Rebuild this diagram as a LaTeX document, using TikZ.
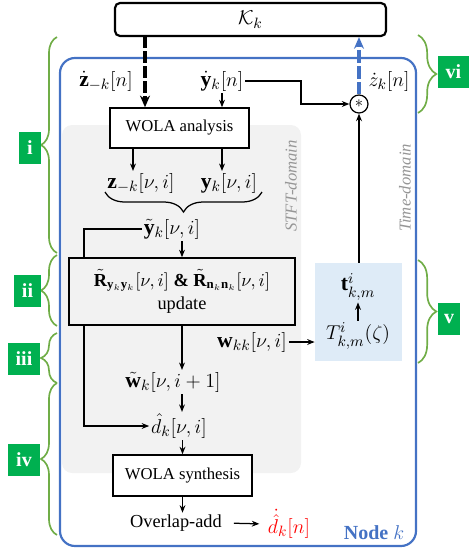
\documentclass[tikz,border=0pt]{standalone}
\usepackage{amsmath,amssymb,bm}
\usepackage{fontspec}
\setmainfont{Liberation Serif}
\usetikzlibrary{calc,arrows.meta,decorations.pathreplacing}
\definecolor{nodeblue}{RGB}{68,114,196}
\definecolor{stftgray}{RGB}{242,242,242}
\definecolor{tblue}{RGB}{222,235,247}
\definecolor{bracegreen}{RGB}{112,173,71}
\definecolor{labelgreen}{RGB}{0,176,80}
\definecolor{domaingray}{RGB}{150,150,150}
\tikzset{
  blockbox/.style={draw=black,line width=0.9pt,fill=white,inner sep=0pt,align=center},
  arw/.style={-{Stealth[length=4.5pt,width=3.5pt]},line width=0.75pt},
  lbl/.style={inner sep=1pt,font=\fontsize{13}{15}\selectfont},
  gbrace/.style={draw=bracegreen,line width=1pt,decorate,decoration={brace,amplitude=#1}},
  gbrace/.default=9.6pt,
  stage/.style={fill=labelgreen,text=white,inner sep=0pt,minimum height=19.2pt,
    font=\fontsize{12}{14}\bfseries\selectfont},
  domaintext/.style={rotate=90,text=domaingray,font=\itshape},
}
\begin{document}
\begin{tikzpicture}[x=0.6pt,y=-0.6pt]
    \useasboundingbox (0,0) rectangle (469,551);
    % regions
    \fill[stftgray,rounded corners=6pt] (62,125) rectangle (301,473);
    \draw[nodeblue,line width=1.3pt,rounded corners=9pt] (60,58) rectangle (416,546);
    \node[domaintext] (stftdom) at (291,186) {STFT-domain};
    \node[domaintext] (timedom) at (405,188) {Time-domain};
    \fill[tblue] (315,263) rectangle (402,361);
    \node[inner sep=0pt,minimum width=52.2pt,minimum height=58.8pt] (tbox) at (358.5,312) {};
    % blocks
    \node[blockbox,line width=1.3pt,rounded corners=3pt,minimum width=162.6pt,minimum height=19.8pt,font=\fontsize{13}{15}\selectfont] (kbox) at (250.5,19.5) {$\mathcal{K}_k$};
    \node[blockbox,minimum width=83.4pt,minimum height=24pt] (analysis) at (179.5,128) {WOLA analysis};
    \node[blockbox,minimum width=83.4pt,minimum height=24.6pt] (synthesis) at (182.5,475.5) {WOLA synthesis};
    \node[draw,circle,line width=0.75pt,fill=white,inner sep=0pt,minimum size=10.8pt] (mult) at (359,104) {$\ast$};
    % labels
    \node[lbl] (zdot) at (106,81) {$\dot{\mathbf{z}}_{-k}[n]$};
    \node[lbl] (ydot) at (222,81) {$\dot{\mathbf{y}}_k[n]$};
    \node[lbl] (zkdot) at (389,81) {$\dot{z}_k[n]$};
    \node[lbl] (zstft) at (141,183) {$\mathbf{z}_{-k}[\nu,i]$};
    \node[lbl] (ystft) at (229,183) {$\mathbf{y}_k[\nu,i]$};
    \node[lbl] (ytil) at (172,229) {$\tilde{\mathbf{y}}_k[\nu,i]$};
    \node[lbl] (wkk) at (252,342) {$\mathbf{w}_{kk}[\nu,i]$};
    \node[lbl] (wtil) at (173,382) {$\tilde{\mathbf{w}}_k[\nu,i+1]$};
    \node[lbl] (dhat) at (179,426) {$\hat{d}_k[\nu,i]$};
    \node[lbl] (tt) at (358,287) {$\mathbf{t}^i_{k,m}$};
    \node[lbl] (TT) at (358,336) {$T^i_{k,m}(\zeta)$};
    \node[lbl,font=\fontsize{11}{13}\selectfont] (ola) at (176,523) {Overlap-add};
    \node[lbl,text=red] (dout) at (289,524) {$\dot{\hat{d}}_k[n]$};
    \node[lbl,text=nodeblue,font=\fontsize{12}{14}\selectfont] (nodename) at (374,533) {\textbf{Node} $k$};
    % loop from y-tilde to d-hat (behind the update block)
    \coordinate (loopx) at (84,0);
    \draw[arw] (ytil.west) -| (loopx |- dhat) -- (dhat.west);
    \node[blockbox,fill=stftgray,minimum width=135.6pt,minimum height=40.2pt,font=\fontsize{11}{14}\selectfont] (rbox) at (182,291.5)
        {$\tilde{\mathbf{R}}_{\mathbf{y}_k\mathbf{y}_k}[\nu,i]$ \textbf{\&} $\tilde{\mathbf{R}}_{\mathbf{n}_k\mathbf{n}_k}[\nu,i]$\\update};
    % connectors
    \coordinate (zin) at (145,36);
    \draw[-{Stealth[length=7pt,width=6pt]},line width=2pt,dash pattern=on 7pt off 2pt] (zin) -- (zin |- analysis.north);
    \draw[arw] (ydot) -- (ydot |- analysis.north);
    \coordinate (bend) at (301,104);
    \draw[arw] (ydot.east) -| (bend) -- (mult.west);
    \draw[-{Stealth[length=7pt,width=6pt]},nodeblue,line width=2pt,dash pattern=on 7.5pt off 2pt] (mult.north) -- (mult.north |- kbox.south);
    \draw[arw] (tbox.north -| mult) -- (mult.south);
    \draw[arw] (TT) -- (tt);
    \draw[arw] ($(analysis.south -| zstft)+(-8,0)$) -- ($(zstft.north)+(-8,0)$);
    \draw[arw] (analysis.south -| ydot) -- (ydot |- ystft.north);
    \draw[line width=0.75pt,decorate,decoration={brace,amplitude=12pt}] (262,192) -- (105,192);
    \draw[arw] (rbox.north |- ytil.south) -- (rbox.north);
    \draw[arw] (rbox.south) -- (rbox.south |- wtil.north);
    \draw[arw] (wkk.east) -- (wkk.east -| tbox.west);
    \draw[arw] (rbox.south |- wtil.south) -- (rbox.south |- dhat.north);
    \draw[arw] (synthesis.north |- dhat.south) -- (synthesis.north);
    \draw[arw] (synthesis.south) -- (synthesis.south |- ola.north);
    \draw[arw,shorten <=6pt,shorten >=4pt] (ola.east) -- (dout.west);
    % stage braces
    \draw[gbrace] (57,253) -- (57,37);
    \draw[gbrace] (57,326) -- (57,255);
    \draw[gbrace] (57,383) -- (57,333);
    \draw[gbrace] (57,535) -- (57,383);
    \draw[gbrace=11pt] (418,35) -- (418,113);
    \draw[gbrace=11pt] (418,260) -- (418,363);
    \node[stage,minimum width=13.2pt] (si) at (30,148) {i};
    \node[stage,minimum width=16.2pt] (sii) at (27.5,291) {ii};
    \node[stage,minimum width=19.2pt] (siii) at (24,359) {iii};
    \node[stage,minimum width=19.2pt] (siv) at (24,460) {iv};
    \node[stage,minimum width=13.2pt] (sv) at (449,319) {v};
    \node[stage,minimum width=18.6pt] (svi) at (453.5,71.5) {vi};
\end{tikzpicture}
\end{document}
